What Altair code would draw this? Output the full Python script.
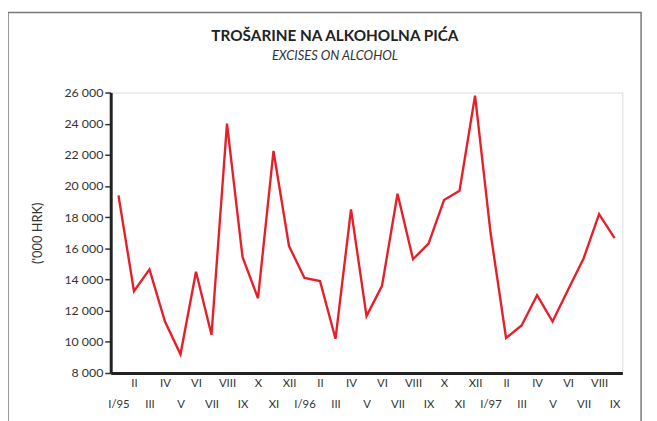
import altair as alt
import pandas as pd

months = ["I/95", "II", "III", "IV", "V", "VI", "VII", "VIII", "IX", "X", "XI", "XII",
          "I/96", "II", "III", "IV", "V", "VI", "VII", "VIII", "IX", "X", "XI", "XII",
          "I/97", "II", "III", "IV", "V", "VI", "VII", "VIII", "IX"]
values = [19400, 13250, 14650, 11300, 9200, 14500, 10450, 24000, 15450, 12800, 22250, 16150,
          14100, 13900, 10200, 18500, 11650, 13600, 19500, 15300, 16300, 19100, 19700, 25800,
          17000, 10250, 11050, 13000, 11300, 13350, 15350, 18200, 16650]
y_ticks = [8000, 10000, 12000, 14000, 16000, 18000, 20000, 22000, 24000, 26000]

df = pd.DataFrame({"idx": list(range(len(months))), "month": months, "value": values})

FONT = "Lato"
W, H = 518, 284
arr = "[" + ",".join("'" + m + "'" for m in months) + "]"

xscale = alt.Scale(domain=[-0.5, len(months) - 0.5], nice=False, zero=False)
yscale = alt.Scale(domain=[8000, 26000], nice=False, zero=False)

yaxis = alt.Axis(
    values=y_ticks, labelExpr="replace(format(datum.value, ','), ',', ' ')",
    title="('000 HRK)", titleFont=FONT, titleFontSize=13, titleFontWeight="normal",
    titleColor="#333", titlePadding=20, grid=False, tickSize=6, tickColor="#333",
    tickWidth=1.5, domainColor="#222", domainWidth=3, labelPadding=2,
    labelFont=FONT, labelFontSize=12.5, labelColor="#333")

line = alt.Chart(df).mark_line(color="#e5202b", strokeWidth=2.4).encode(
    x=alt.X("idx:Q", scale=xscale, axis=alt.Axis(
        orient="bottom",
        values=[i for i in range(len(months)) if i % 2 == 1],
        labelExpr=arr + "[datum.value]", title=None, grid=False, ticks=False,
        domain=True, domainColor="#222", domainWidth=3,
        labelPadding=5, labelFont=FONT, labelFontSize=11.5, labelColor="#333")),
    y=alt.Y("value:Q", scale=yscale, axis=yaxis),
)

lower = alt.Chart(df).mark_line(opacity=0).encode(
    x=alt.X("idx:Q", scale=xscale, axis=alt.Axis(
        orient="bottom",
        values=[i for i in range(len(months)) if i % 2 == 0],
        labelExpr=arr + "[datum.value]", title=None, grid=False, ticks=False,
        domain=False, labelPadding=26, labelFont=FONT, labelFontSize=11.5, labelColor="#333")),
    y=alt.Y("value:Q", scale=yscale, axis=yaxis),
)

frame = alt.Chart(pd.DataFrame({"k": [0]})).mark_rect(
    filled=False, stroke="#777", strokeWidth=1.5, clip=False).encode(
    x=alt.value(-104), x2=alt.value(537), y=alt.value(-81), y2=alt.value(360))

chart = alt.layer(frame, line, lower).resolve_axis(x="independent").properties(
    width=W, height=H,
    autosize=alt.AutoSizeParams(type="none"),
    padding={"left": 104, "top": 83, "right": 27, "bottom": 46},
    title=alt.TitleParams(
        text="TROŠARINE NA ALKOHOLNA PIĆA", subtitle="EXCISES ON ALCOHOL",
        anchor="middle", dx=-32, offset=-52, font=FONT, fontSize=15.5, fontWeight="bold",
        color="#222", subtitleFont=FONT, subtitleFontSize=13, subtitleFontStyle="italic",
        subtitleColor="#333", subtitlePadding=6),
).configure_view(stroke="#888", strokeWidth=1.5).configure(background="white")

chart.save("out.html", embed_options={"renderer": "svg", "actions": False})
